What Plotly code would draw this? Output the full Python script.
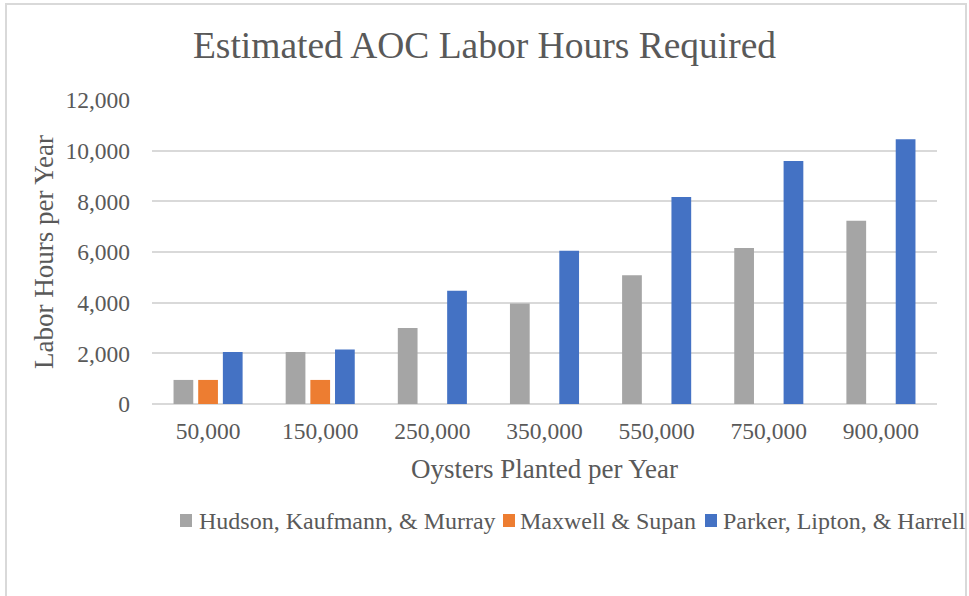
import plotly.graph_objects as go

categories = ["50,000", "150,000", "250,000", "350,000", "550,000", "750,000", "900,000"]
hudson = [950, 2050, 3000, 3970, 5080, 6160, 7230]
maxwell = [950, 950, None, None, None, None, None]
parker = [2050, 2150, 4470, 6050, 8170, 9590, 10450]

series_names = ["Hudson, Kaufmann, & Murray", "Maxwell & Supan", "Parker, Lipton, & Harrell"]
colors = ["#A5A5A5", "#ED7D31", "#4472C4"]

W, H = 969, 596
L, R, T, B = 152, 937, 100, 404  # plot area pixel bounds

FONT = "Liberation Serif, Times New Roman, serif"
TXT = "#595959"

fig = go.Figure()
for name, vals, c in zip(series_names, [hudson, maxwell, parker], colors):
    fig.add_trace(go.Bar(x=categories, y=vals, name=name, showlegend=False,
                         marker=dict(color=c, line=dict(width=0))))


def px(x):
    return (x - L) / (R - L)


def py(y):
    return (B - y) / (B - T)


fig.update_layout(
    width=W, height=H,
    margin=dict(l=L, r=W - R, t=T, b=H - B, pad=0),
    paper_bgcolor="white", plot_bgcolor="white",
    barmode="group", bargap=0.34, bargroupgap=0.2,
    font=dict(family=FONT, color=TXT, size=23.5),
    title=dict(text="Estimated AOC Labor Hours Required", x=0.5, xanchor="center",
               y=1 - 45 / H, yanchor="middle",
               font=dict(family=FONT, size=37.5, color=TXT)),
    xaxis=dict(showgrid=False, showline=False, ticks="", tickfont=dict(size=23.5, color=TXT),
               title=dict(text="Oysters Planted per Year", font=dict(size=27, color=TXT), standoff=16),
               ticklabelstandoff=10),
    yaxis=dict(range=[0, 12000], dtick=2000, tickformat=",", showgrid=True, gridcolor="#D9D9D9",
               gridwidth=1.5, zeroline=True, zerolinecolor="#D9D9D9", zerolinewidth=1.5,
               showline=False, ticks="", tickfont=dict(size=23.5, color=TXT),
               title=dict(text="Labor Hours per Year", font=dict(size=27, color=TXT), standoff=3),
               ticklabelstandoff=21),
    showlegend=False,
)

# custom legend (swatch + label) positioned like the reference
legend_swatch_x = [180, 503, 705]
legend_text_x = [197, 518, 721]
for name, c, sx, tx in zip(series_names, colors, legend_swatch_x, legend_text_x):
    fig.add_shape(type="rect", xref="paper", yref="paper",
                  x0=px(sx), x1=px(sx + 12), y0=py(527), y1=py(514),
                  line=dict(width=0), fillcolor=c)
    fig.add_annotation(text=name, xref="paper", yref="paper", x=px(tx), y=py(521),
                       xanchor="left", yanchor="middle", showarrow=False,
                       font=dict(family=FONT, size=24, color=TXT))

# outer chart frame
fig.add_shape(type="rect", xref="paper", yref="paper",
              x0=px(6), x1=px(966), y0=py(620), y1=py(4),
              line=dict(color="#D9D9D9", width=2), fillcolor="rgba(0,0,0,0)", layer="below")

fig.write_html("out.html", config={"displayModeBar": False},
               post_script="document.body.style.margin='0';")
